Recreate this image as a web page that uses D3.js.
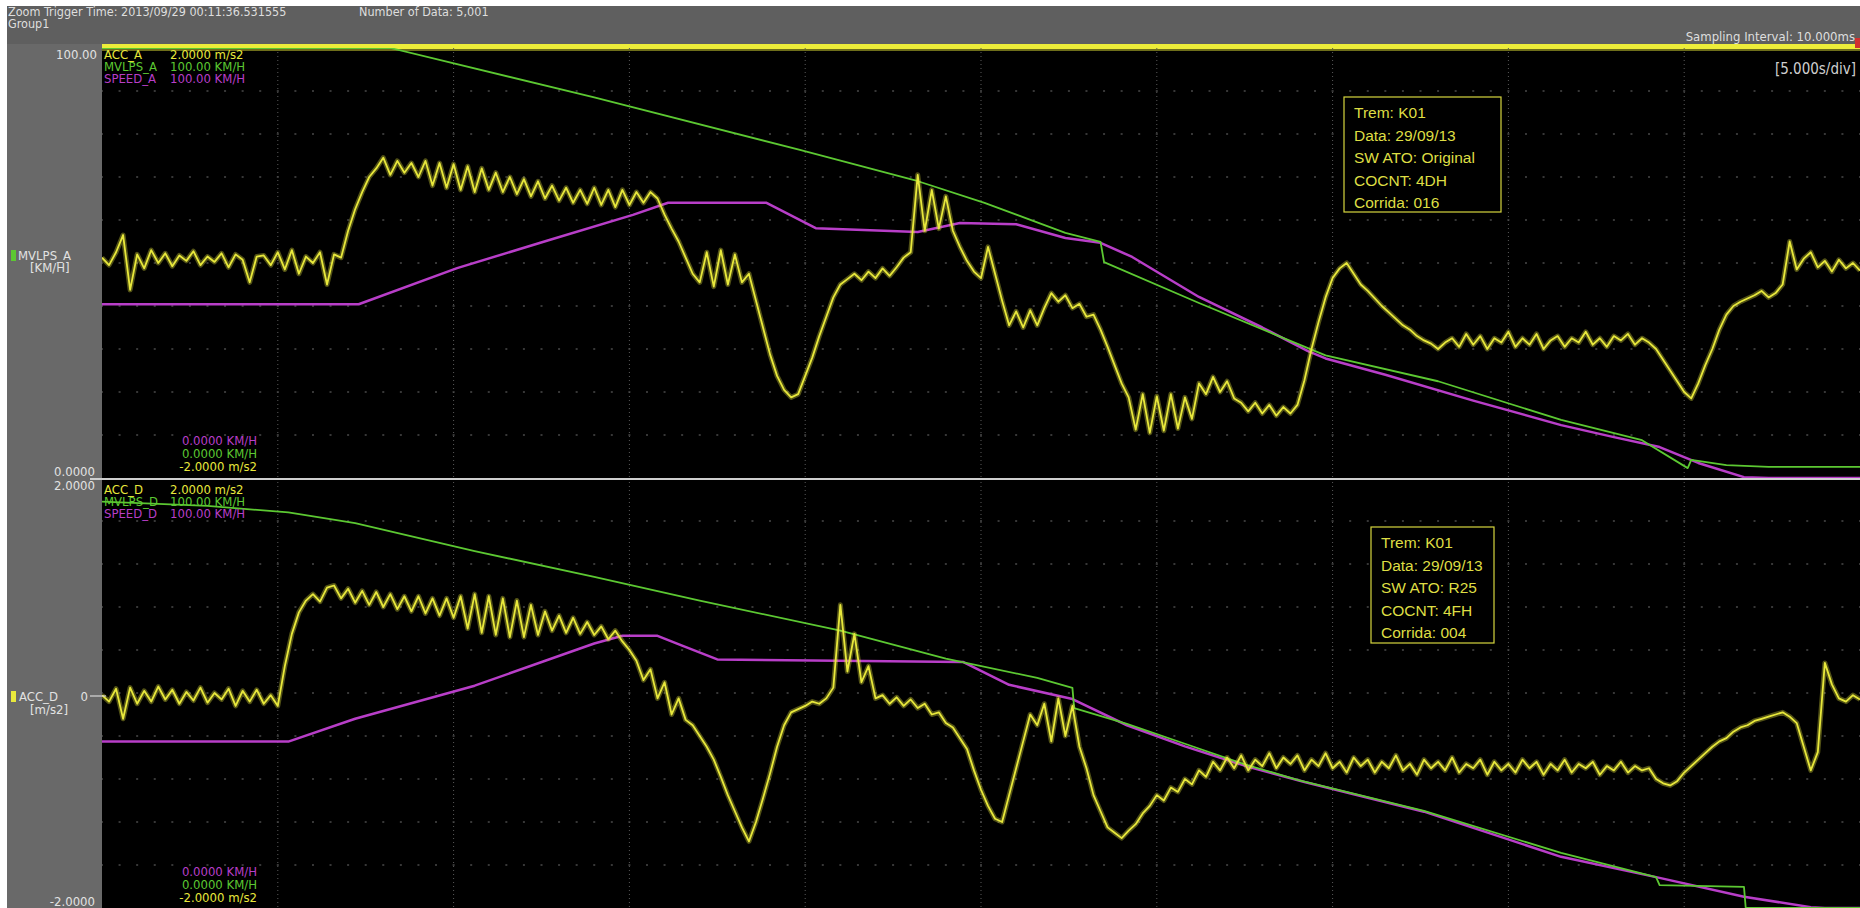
<!DOCTYPE html>
<html>
<head>
<meta charset="utf-8">
<script src="https://cdn.jsdelivr.net/npm/d3@7"></script>
<style>
  html, body { margin: 0; padding: 0; background: #ffffff; }
  svg { display: block; }
  .narrow { font-family: 'Liberation Sans Narrow', 'Arial Narrow', 'DejaVu Sans Condensed', 'Liberation Sans', sans-serif; }
  .box { font-family: 'Liberation Sans', Arial, sans-serif; }
</style>
</head>
<body>
<svg id="chart" width="1860" height="908"></svg>
<script>
// ---- recording: 5,001 samples @ 10 ms, shown at 5.000 s/div ----
const timeSpan = [0, 50];
const sampleStep = 0.2;          // acceleration traces decimated to 200 ms

// ACC_A (m/s2), one row = 2 s
const accA = [
  0.05, -0.02, 0.10, 0.26, -0.25, 0.08, -0.05, 0.12, 0.00, 0.09,
  -0.03, 0.07, 0.02, 0.11, -0.02, 0.06, 0.01, 0.09, -0.04, 0.08,
  0.03, -0.18, 0.06, 0.07, -0.02, 0.10, -0.06, 0.12, -0.10, 0.06,
  0.00, 0.10, -0.20, 0.08, 0.05, 0.30, 0.50, 0.66, 0.80, 0.88,
  0.98, 0.82, 0.95, 0.84, 0.93, 0.80, 0.95, 0.72, 0.93, 0.70,
  0.92, 0.68, 0.90, 0.66, 0.88, 0.68, 0.84, 0.66, 0.80, 0.64,
  0.78, 0.62, 0.76, 0.60, 0.72, 0.58, 0.70, 0.56, 0.68, 0.55,
  0.70, 0.54, 0.68, 0.52, 0.68, 0.54, 0.66, 0.56, 0.66, 0.60,
  0.45, 0.32, 0.20, 0.05, -0.10, -0.18, 0.10, -0.22, 0.12, -0.20,
  0.08, -0.18, -0.10, -0.35, -0.60, -0.85, -1.05, -1.18, -1.25, -1.22,
  -1.05, -0.88, -0.68, -0.50, -0.32, -0.20, -0.15, -0.10, -0.16, -0.08,
  -0.14, -0.05, -0.12, -0.04, 0.05, 0.10, 0.82, 0.30, 0.68, 0.32,
  0.62, 0.30, 0.15, 0.02, -0.08, -0.14, 0.15, -0.10, -0.35, -0.58,
  -0.45, -0.60, -0.44, -0.58, -0.42, -0.28, -0.36, -0.30, -0.42, -0.38,
  -0.50, -0.48, -0.62, -0.78, -0.95, -1.12, -1.25, -1.55, -1.22, -1.58,
  -1.24, -1.56, -1.22, -1.54, -1.25, -1.45, -1.12, -1.22, -1.06, -1.20,
  -1.10, -1.26, -1.30, -1.38, -1.30, -1.40, -1.32, -1.42, -1.34, -1.40,
  -1.32, -1.09, -0.80, -0.55, -0.32, -0.14, -0.05, 0.00, -0.10, -0.20,
  -0.26, -0.33, -0.40, -0.46, -0.52, -0.58, -0.62, -0.68, -0.72, -0.75,
  -0.80, -0.74, -0.70, -0.78, -0.66, -0.76, -0.68, -0.80, -0.70, -0.74,
  -0.64, -0.78, -0.70, -0.76, -0.66, -0.80, -0.72, -0.68, -0.78, -0.70,
  -0.74, -0.64, -0.76, -0.70, -0.78, -0.68, -0.72, -0.66, -0.76, -0.70,
  -0.74, -0.80, -0.90, -1.00, -1.10, -1.20, -1.26, -1.12, -0.95, -0.80,
  -0.62, -0.48, -0.40, -0.36, -0.33, -0.30, -0.26, -0.32, -0.28, -0.20,
  0.20, -0.06, 0.04, 0.10, -0.04, 0.02, -0.08, 0.03, -0.05, 0.00,
  -0.07
];

// ACC_D (m/s2), one row = 2 s
const accD = [
  -0.02, -0.08, 0.04, -0.24, 0.05, -0.10, 0.02, -0.08, 0.06, -0.06,
  0.03, -0.10, 0.01, -0.07, 0.05, -0.09, 0.00, -0.06, 0.04, -0.12,
  0.02, -0.08, 0.03, -0.10, -0.02, -0.12, 0.25, 0.55, 0.75, 0.86,
  0.92, 0.85, 0.98, 1.00, 0.88, 0.97, 0.84, 0.95, 0.82, 0.94,
  0.80, 0.92, 0.78, 0.90, 0.76, 0.90, 0.74, 0.88, 0.72, 0.88,
  0.70, 0.90, 0.60, 0.92, 0.56, 0.90, 0.54, 0.88, 0.52, 0.86,
  0.52, 0.82, 0.54, 0.76, 0.58, 0.72, 0.56, 0.70, 0.55, 0.66,
  0.54, 0.62, 0.50, 0.58, 0.48, 0.40, 0.30, 0.12, 0.22, -0.05,
  0.10, -0.20, -0.05, -0.25, -0.30, -0.40, -0.50, -0.62, -0.78, -0.95,
  -1.10, -1.25, -1.38, -1.20, -0.98, -0.75, -0.50, -0.30, -0.18, -0.15,
  -0.12, -0.08, -0.10, -0.05, 0.05, 0.82, 0.20, 0.55, 0.10, 0.25,
  -0.05, -0.02, -0.10, -0.04, -0.12, -0.06, -0.14, -0.10, -0.20, -0.18,
  -0.28, -0.32, -0.42, -0.52, -0.72, -0.90, -1.05, -1.17, -1.20, -0.95,
  -0.70, -0.45, -0.20, -0.30, -0.10, -0.45, -0.05, -0.40, -0.12, -0.50,
  -0.70, -0.95, -1.10, -1.25, -1.30, -1.35, -1.28, -1.22, -1.12, -1.05,
  -0.95, -1.00, -0.88, -0.92, -0.80, -0.85, -0.72, -0.78, -0.64, -0.72,
  -0.60, -0.70, -0.58, -0.72, -0.62, -0.68, -0.56, -0.70, -0.60, -0.66,
  -0.58, -0.72, -0.62, -0.68, -0.56, -0.70, -0.64, -0.74, -0.60, -0.68,
  -0.62, -0.74, -0.64, -0.70, -0.58, -0.72, -0.66, -0.76, -0.62, -0.70,
  -0.64, -0.72, -0.60, -0.74, -0.66, -0.70, -0.62, -0.76, -0.64, -0.72,
  -0.66, -0.74, -0.62, -0.70, -0.64, -0.76, -0.66, -0.72, -0.62, -0.74,
  -0.66, -0.70, -0.64, -0.76, -0.68, -0.72, -0.64, -0.74, -0.68, -0.72,
  -0.70, -0.80, -0.84, -0.86, -0.82, -0.74, -0.68, -0.62, -0.56, -0.50,
  -0.45, -0.42, -0.36, -0.32, -0.30, -0.26, -0.24, -0.22, -0.20, -0.18,
  -0.22, -0.28, -0.50, -0.72, -0.55, 0.28, 0.08, -0.05, -0.08, -0.02,
  -0.06
];

// speed traces (km/h) as [time s, value] breakpoints
const mvlpsA = [[0,100],[8.2,100],[14.0,88.5],[19.85,76.3],[23.1,69.3],[25.1,64.0],[27.4,57.0],[28.4,54.9],[28.5,50.2],
  [31.2,40.7],[34.8,28.5],[38.0,22.5],[41.5,13.5],[43.8,8.8],[45.1,2.3],[45.2,4.2],[46.2,3.0],[47.4,2.6],[50,2.6]];
const speedA = [[0,40.4],[7.3,40.4],[10.1,48.8],[12.7,55.3],[15.1,61.2],[16.1,64.0],[18.9,64.0],[20.3,58.1],[23.2,57.2],
  [24.4,59.3],[26.0,59.0],[27.4,55.8],[28.4,54.7],[29.3,51.4],[31.2,42.1],[33.0,35.0],[34.3,29.5],[34.8,27.8],[36.5,24.0],
  [39.0,18.0],[41.5,12.3],[43.0,9.5],[44.3,7.2],[45.4,3.5],[46.7,0.2],[47.4,0],[50,0]];
const mvlpsD = [[0,94.5],[3,93.5],[5.3,92],[7.2,89.5],[10.6,83],[14,77],[17,71.5],[21,64.5],[24,58],[26.6,53.5],[27.6,51.2],
  [27.65,46.5],[29.15,42.8],[30.8,38.2],[32.5,33.4],[34,29.8],[37.6,22.6],[41.5,12.8],[44.2,7.2],[44.3,5.3],[46.7,4.9],
  [46.75,0],[50,0]];
const speedD = [[0,38.7],[5.3,38.7],[7.2,44.0],[10.6,51.7],[14.0,61.5],[14.8,63.3],[15.8,63.3],[16.5,61.0],[17.5,57.8],
  [24.5,57.2],[25.8,51.9],[27.6,48.6],[29.15,42.5],[30.8,37.6],[32.5,33.1],[34.2,29.3],[37.6,22.4],[41.5,11.9],
  [44.3,7.0],[46.7,2.6],[48.6,0.2],[49.0,0],[50,0]];

// channel labels and scale readouts
const channelsA = ['ACC_A', 'MVLPS_A', 'SPEED_A'];
const channelsD = ['ACC_D', 'MVLPS_D', 'SPEED_D'];
const fullScale = ['2.0000 m/s2', '100.00 KM/H', '100.00 KM/H'];
const zeroScale = ['0.0000 KM/H', '0.0000 KM/H', '-2.0000 m/s2'];
const headerLeft = ['Zoom Trigger Time: 2013/09/29 00:11:36.531555', 'Group1'];
const headerData = 'Number of Data: 5,001';
const headerRight = 'Sampling Interval: 10.000ms';
const timeDiv = '[5.000s/div]';
const noteA = ['Trem: K01', 'Data: 29/09/13', 'SW ATO: Original', 'COCNT: 4DH', 'Corrida: 016'];
const noteD = ['Trem: K01', 'Data: 29/09/13', 'SW ATO: R25', 'COCNT: 4FH', 'Corrida: 004'];

// ---- drawing ----
const W = 1860, H = 908;
const plotL = 102, plotR = 1860;
const COL = { acc: '#e8e83c', mvlps: '#5cc832', speed: '#b83ec8', text: '#e2e2e2' };
const svg = d3.select('#chart');

svg.append('rect').attr('width', W).attr('height', H).attr('fill', '#ffffff');
svg.append('rect').attr('x', 7).attr('y', 6).attr('width', W - 7).attr('height', H - 6).attr('fill', '#696969');
svg.append('rect').attr('x', 7).attr('y', 6).attr('width', W - 7).attr('height', 38).attr('fill', '#5f5f5f');
svg.append('rect').attr('x', plotL).attr('y', 44).attr('width', plotR - plotL).attr('height', H - 44).attr('fill', '#000000');

// header texts
const hdr = svg.append('g').attr('class', 'narrow').attr('font-size', 12.5).attr('fill', '#dedede');
hdr.append('text').attr('x', 8).attr('y', 16).text(headerLeft[0]);
hdr.append('text').attr('x', 8).attr('y', 28).text(headerLeft[1]);
hdr.append('text').attr('x', 359).attr('y', 16).text(headerData);
hdr.append('text').attr('x', 1855).attr('y', 41).attr('text-anchor', 'end').attr('font-size', 13).text(headerRight);

// overview strip across the top of the plot
svg.append('rect').attr('x', plotL).attr('y', 44).attr('width', plotR - plotL).attr('height', 5).attr('fill', '#eded3a');
svg.append('rect').attr('x', plotL).attr('y', 49).attr('width', plotR - plotL).attr('height', 2).attr('fill', '#6e6e1a');
svg.append('rect').attr('x', 1855).attr('y', 38).attr('width', 5).attr('height', 10).attr('fill', '#d03030');

const x = d3.scaleLinear().domain(timeSpan).range([plotL, plotR]);

const panels = [
  { top: 48, bottom: 478, acc: accA, mvlps: mvlpsA, speed: speedA, names: channelsA, note: noteA,
    noteBox: [1344, 97, 157, 115] },
  { top: 478, bottom: 908, acc: accD, mvlps: mvlpsD, speed: speedD, names: channelsD, note: noteD,
    noteBox: [1371, 527, 123, 116] }
];

panels.forEach((p, k) => {
  const yAcc = d3.scaleLinear().domain([-2, 2]).range([p.bottom, p.top]);
  const ySpd = d3.scaleLinear().domain([0, 100]).range([p.bottom, p.top]);
  const clipId = 'clip' + k;
  svg.append('clipPath').attr('id', clipId).append('rect')
    .attr('x', plotL).attr('y', p.top).attr('width', plotR - plotL).attr('height', p.bottom - p.top);

  // dotted graticule
  const grid = svg.append('g').attr('clip-path', `url(#${clipId})`);
  const divX = d3.range(5, 50, 5);
  grid.selectAll('line.v').data(divX).join('line')
    .attr('x1', d => x(d)).attr('x2', d => x(d)).attr('y1', p.top).attr('y2', p.bottom)
    .attr('stroke', '#5a5a5a').attr('stroke-width', 1).attr('stroke-dasharray', '1,3');
  const divY = d3.range(-1.6, 1.61, 0.4);
  const minor = (x(5) - x(0)) / 10;
  grid.selectAll('line.h').data(divY).join('line')
    .attr('x1', plotL - 1).attr('x2', plotR).attr('y1', d => yAcc(d)).attr('y2', d => yAcc(d))
    .attr('stroke', '#4a4a4a').attr('stroke-width', 1.5)
    .attr('stroke-dasharray', `2,${minor - 2}`);

  // traces
  const tr = svg.append('g').attr('clip-path', `url(#${clipId})`).attr('fill', 'none')
    .attr('stroke-linejoin', 'round');
  const spdLine = d3.line().x(d => x(d[0])).y(d => ySpd(d[1]));
  const accLine = d3.line().x((d, i) => x(i * sampleStep)).y(d => yAcc(d));
  tr.append('path').attr('d', spdLine(p.speed)).attr('stroke', COL.speed).attr('stroke-width', 2.5);
  tr.append('path').attr('d', spdLine(p.mvlps)).attr('stroke', COL.mvlps).attr('stroke-width', 1.8);
  const accPath = accLine(p.acc);
  tr.append('path').attr('d', accPath).attr('stroke', COL.acc).attr('stroke-width', 5).attr('stroke-opacity', 0.35);
  tr.append('path').attr('d', accPath).attr('stroke', COL.acc).attr('stroke-width', 1.8);

  // channel readouts
  const cols = [COL.acc, COL.mvlps, COL.speed];
  const lg = svg.append('g').attr('class', 'narrow').attr('font-size', 13);
  p.names.forEach((n, i) => {
    const yy = p.top + 11 + i * 12 + (k ? 5 : 0);
    lg.append('text').attr('x', plotL + 2).attr('y', yy).attr('fill', cols[i]).text(n);
    lg.append('text').attr('x', 170).attr('y', yy).attr('fill', cols[i]).text(fullScale[i]);
  });
  const zcols = [COL.speed, COL.mvlps, COL.acc];
  zeroScale.forEach((s, i) => {
    lg.append('text').attr('x', 257).attr('y', p.bottom - 33 + i * 13 + (k ? 1 : 0)).attr('text-anchor', 'end')
      .attr('fill', zcols[i]).text(s);
  });

  // note box
  const [bx, by, bw, bh] = p.noteBox;
  const nb = svg.append('g').attr('class', 'box');
  nb.append('rect').attr('x', bx).attr('y', by).attr('width', bw).attr('height', bh)
    .attr('fill', '#000').attr('stroke', '#d6d63e').attr('stroke-width', 1.2);
  p.note.forEach((t, i) => {
    nb.append('text').attr('x', bx + 10).attr('y', by + 21 + i * 22.5)
      .attr('font-size', 15.5).attr('fill', '#dede44').text(t);
  });
});

// panel divider
svg.append('line').attr('x1', 90).attr('x2', plotR).attr('y1', 479).attr('y2', 479)
  .attr('stroke', '#cfcfcf').attr('stroke-width', 2);

// left scale labels
const ls = svg.append('g').attr('class', 'narrow').attr('font-size', 13).attr('fill', COL.text)
  .attr('text-anchor', 'end');
ls.append('text').attr('x', 97).attr('y', 59).text('100.00');
ls.append('text').attr('x', 95).attr('y', 476).text('0.0000');
ls.append('text').attr('x', 95).attr('y', 490).text('2.0000');
ls.append('text').attr('x', 95).attr('y', 906).text('-2.0000');

// active channel tags
const tags = svg.append('g').attr('class', 'narrow').attr('font-size', 13).attr('fill', COL.text);
tags.append('rect').attr('x', 11).attr('y', 250).attr('width', 5).attr('height', 11).attr('fill', COL.mvlps);
tags.append('text').attr('x', 18).attr('y', 260).text('MVLPS_A');
tags.append('text').attr('x', 30).attr('y', 272).text('[KM/H]');
tags.append('rect').attr('x', 11).attr('y', 691).attr('width', 5).attr('height', 11).attr('fill', COL.acc);
tags.append('text').attr('x', 19).attr('y', 701).text('ACC_D');
tags.append('text').attr('x', 30).attr('y', 714).text('[m/s2]');
tags.append('text').attr('x', 88).attr('y', 701).attr('text-anchor', 'end').text('0');
const yAccD = d3.scaleLinear().domain([-2, 2]).range([908, 478]);
svg.append('line').attr('x1', 90).attr('x2', 106).attr('y1', yAccD(0) + 3).attr('y2', yAccD(0) + 3)
  .attr('stroke', '#d8d8d8').attr('stroke-width', 1.2);

// time/div readout
svg.append('text').attr('class', 'narrow').attr('x', 1856).attr('y', 74).attr('text-anchor', 'end')
  .attr('font-size', 15).attr('fill', '#cfcfcf').text(timeDiv);
</script>
</body>
</html>
